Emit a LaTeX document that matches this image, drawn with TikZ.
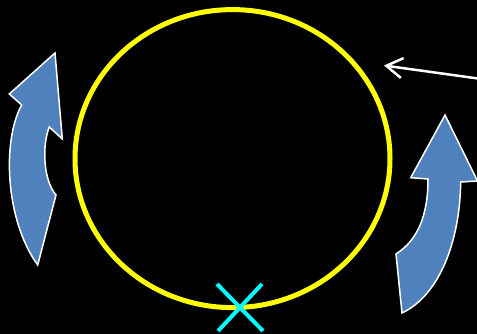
\documentclass[tikz,border=0pt]{standalone}
\usetikzlibrary{arrows.meta}
\definecolor{arrowblue}{RGB}{79,129,189}
\definecolor{ringyellow}{RGB}{255,255,0}
\definecolor{markcyan}{RGB}{0,255,255}
\begin{document}
\begin{tikzpicture}[x=1pt,y=-1pt,
  bluearrow/.style={fill=arrowblue,draw=white,line width=1.5pt,line join=miter},
  ring/.style={draw=ringyellow,line width=5pt},
  pointer/.style={draw=white,line width=2.5pt,-{Straight Barb[length=16pt,width=20pt,line width=2.5pt]}},
  xmark/.style={draw=markcyan,line width=4pt}]
\fill[black] (0,0) rectangle (477,334);
\useasboundingbox (0,0) rectangle (477,334);
% yellow ring
\draw[ring] (232.5,158.6) ellipse [x radius=157.5, y radius=149];
% left curved arrow
\path[bluearrow] (55,53) -- (62.3,139) -- (49.3,127)
  .. controls (42,145) and (43,180) .. (56,195)
  -- (37.7,265)
  .. controls (5,220) and (2,140) .. (21.7,105)
  -- (9.3,94) -- cycle;
% right curved arrow
\path[bluearrow] (445,115) -- (477.5,181) -- (460.7,182)
  .. controls (460,240) and (440,295) .. (402,313)
  -- (396,254)
  .. controls (418,240) and (428,215) .. (428,179)
  -- (410.7,177.7) -- cycle;
% white pointer
\coordinate (pstart) at (478,78.5);
\coordinate (pend) at (384,65.5);
\draw[pointer] (pstart) -- (pend);
% cyan cross
\coordinate (xa) at (217,284);
\coordinate (xb) at (263,331);
\coordinate (xc) at (262,284);
\coordinate (xd) at (218,331);
\draw[xmark] (xa) -- (xb);
\draw[xmark] (xc) -- (xd);
\end{tikzpicture}
\end{document}
